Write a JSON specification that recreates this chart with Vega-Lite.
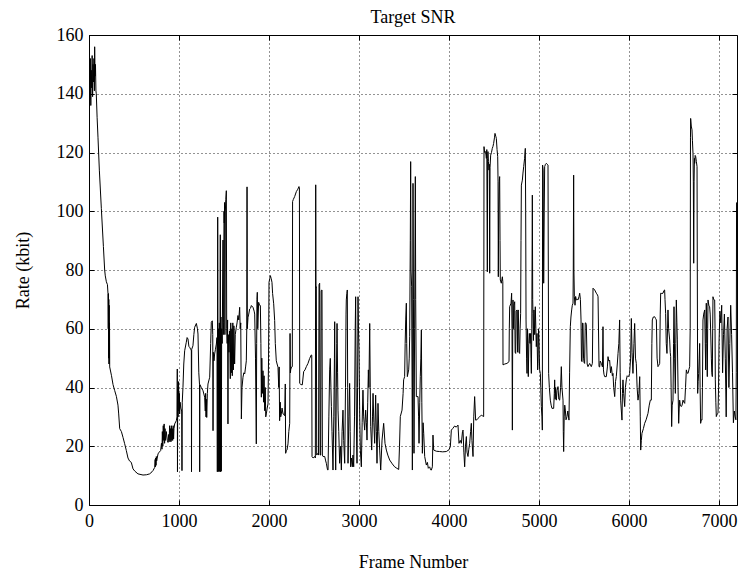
{
  "$schema": "https://vega.github.io/schema/vega-lite/v6.json",
  "width": 648,
  "height": 470,
  "autosize": "none",
  "padding": {"left": 89, "top": 35, "right": 3, "bottom": 66},
  "background": "white",
  "config": {
    "font": "Liberation Serif",
    "view": {"stroke": "black", "strokeWidth": 1},
    "axis": {
      "labelFont": "Liberation Serif",
      "titleFont": "Liberation Serif",
      "labelFontSize": 18,
      "titleFontSize": 18,
      "titleFontWeight": "normal",
      "labelColor": "black",
      "titleColor": "black",
      "domain": false,
      "tickColor": "black",
      "tickSize": -5,
      "grid": true,
      "gridColor": "black",
      "gridDash": [1, 3],
      "gridOpacity": 0.85
    }
  },
  "title": {
    "text": "Target SNR",
    "font": "Liberation Serif",
    "fontSize": 18,
    "fontWeight": "normal",
    "color": "black",
    "anchor": "middle",
    "baseline": "alphabetic",
    "offset": 9,
    "dy": 24
  },
  "data": {
    "values": [
      {"f":0,"r":140},{"f":5,"r":150},{"f":10,"r":138},{"f":15,"r":152},{"f":20,"r":136},{"f":25,"r":148},{"f":30,"r":142},{"f":35,"r":153},{"f":40,"r":139},{"f":45,"r":150},{"f":50,"r":144},{"f":55,"r":152},{"f":60,"r":141},{"f":63,"r":156},{"f":67,"r":146},{"f":72,"r":150},{"f":77,"r":141},{"f":81,"r":140},{"f":90,"r":132},{"f":100,"r":125},{"f":115,"r":114},{"f":137,"r":101},{"f":160,"r":88},{"f":174,"r":80},{"f":181,"r":78},{"f":193,"r":76},{"f":205,"r":75},{"f":211,"r":72},{"f":214,"r":60},{"f":216,"r":72},{"f":218,"r":50},{"f":220,"r":70},{"f":222,"r":48},{"f":224,"r":68},{"f":226,"r":50},{"f":228,"r":62},{"f":230,"r":47},{"f":250,"r":44},{"f":267,"r":41},{"f":285,"r":39},{"f":304,"r":37},{"f":322,"r":34},{"f":330,"r":31},{"f":341,"r":26},{"f":360,"r":25},{"f":378,"r":23},{"f":395,"r":21},{"f":415,"r":18.5},{"f":433,"r":16},{"f":450,"r":15},{"f":470,"r":14.5},{"f":489,"r":12.3},{"f":510,"r":11.5},{"f":544,"r":10.6},{"f":600,"r":10.2},{"f":640,"r":10.3},{"f":674,"r":10.6},{"f":700,"r":11.3},{"f":711,"r":11.7},{"f":730,"r":12.8},{"f":735,"r":15.5},{"f":738,"r":13},{"f":741,"r":16},{"f":745,"r":13.5},{"f":748,"r":16.5},{"f":752,"r":15},{"f":767,"r":17.4},{"f":780,"r":18},{"f":796,"r":18.5},{"f":805,"r":21},{"f":811,"r":19},{"f":815,"r":25},{"f":820,"r":20},{"f":825,"r":27},{"f":830,"r":22},{"f":835,"r":27.6},{"f":840,"r":21},{"f":845,"r":26},{"f":850,"r":22},{"f":859,"r":25},{"f":870,"r":22},{"f":878,"r":21.3},{"f":885,"r":24},{"f":890,"r":21.5},{"f":896,"r":27},{"f":900,"r":22},{"f":905,"r":26},{"f":910,"r":21.5},{"f":915,"r":27},{"f":920,"r":22},{"f":925,"r":26},{"f":930,"r":22},{"f":935,"r":27},{"f":940,"r":22.5},{"f":944,"r":26},{"f":952,"r":27.6},{"f":970,"r":28.7},{"f":978,"r":30},{"f":981,"r":46.3},{"f":983,"r":11.3},{"f":986,"r":40},{"f":990,"r":30},{"f":995,"r":42},{"f":1000,"r":32},{"f":1005,"r":38},{"f":1007,"r":31},{"f":1012,"r":35},{"f":1020,"r":33},{"f":1030,"r":32},{"f":1033,"r":11.7},{"f":1036,"r":35},{"f":1044,"r":40},{"f":1053,"r":48},{"f":1063,"r":52.5},{"f":1081,"r":55.4},{"f":1090,"r":57},{"f":1100,"r":56.5},{"f":1110,"r":54},{"f":1118,"r":53.7},{"f":1130,"r":53},{"f":1137,"r":52.5},{"f":1139,"r":11.3},{"f":1141,"r":53},{"f":1155,"r":54.2},{"f":1165,"r":58},{"f":1174,"r":60.5},{"f":1193,"r":61.8},{"f":1205,"r":60},{"f":1211,"r":58.2},{"f":1220,"r":45},{"f":1228,"r":41},{"f":1230,"r":11.3},{"f":1232,"r":41},{"f":1248,"r":40},{"f":1267,"r":38.9},{"f":1285,"r":36.7},{"f":1292,"r":32},{"f":1296,"r":38},{"f":1300,"r":30},{"f":1304,"r":36},{"f":1308,"r":29.8},{"f":1315,"r":38},{"f":1322,"r":41.2},{"f":1341,"r":43.5},{"f":1352,"r":55},{"f":1359,"r":62.2},{"f":1370,"r":62.7},{"f":1375,"r":58},{"f":1378,"r":25.3},{"f":1381,"r":52},{"f":1389,"r":49.1},{"f":1396,"r":51.4},{"f":1405,"r":53},{"f":1415,"r":54.8},{"f":1422,"r":57},{"f":1426,"r":11.3},{"f":1430,"r":98},{"f":1433,"r":50},{"f":1436,"r":11.5},{"f":1440,"r":60},{"f":1444,"r":11.3},{"f":1448,"r":62},{"f":1452,"r":11.5},{"f":1459,"r":92},{"f":1462,"r":11.3},{"f":1466,"r":64},{"f":1470,"r":11.5},{"f":1474,"r":60},{"f":1480,"r":55},{"f":1489,"r":90.2},{"f":1492,"r":58},{"f":1496,"r":62},{"f":1500,"r":100},{"f":1503,"r":96},{"f":1507,"r":103},{"f":1510,"r":58},{"f":1515,"r":100},{"f":1520,"r":104},{"f":1526,"r":107},{"f":1530,"r":60},{"f":1535,"r":55},{"f":1540,"r":63},{"f":1544,"r":27.6},{"f":1548,"r":58},{"f":1555,"r":52},{"f":1563,"r":59.3},{"f":1570,"r":43},{"f":1575,"r":62},{"f":1581,"r":45},{"f":1587,"r":60},{"f":1592,"r":44},{"f":1598,"r":62},{"f":1604,"r":46},{"f":1610,"r":61},{"f":1618,"r":48},{"f":1625,"r":58},{"f":1637,"r":60.5},{"f":1645,"r":62},{"f":1655,"r":64.5},{"f":1664,"r":63},{"f":1674,"r":67.3},{"f":1680,"r":60},{"f":1686,"r":62},{"f":1693,"r":29.3},{"f":1700,"r":40},{"f":1711,"r":43.5},{"f":1720,"r":45},{"f":1730,"r":44.6},{"f":1740,"r":47},{"f":1748,"r":49.1},{"f":1753,"r":60},{"f":1756,"r":108.3},{"f":1759,"r":60},{"f":1767,"r":63.9},{"f":1775,"r":65},{"f":1785,"r":66.7},{"f":1795,"r":67},{"f":1804,"r":67.9},{"f":1822,"r":67.3},{"f":1835,"r":66},{"f":1841,"r":65},{"f":1850,"r":50},{"f":1859,"r":20.8},{"f":1863,"r":55},{"f":1866,"r":70},{"f":1870,"r":72.4},{"f":1875,"r":60},{"f":1885,"r":69},{"f":1895,"r":68},{"f":1904,"r":67.9},{"f":1910,"r":55},{"f":1915,"r":36.7},{"f":1920,"r":50},{"f":1927,"r":38},{"f":1933,"r":45.7},{"f":1940,"r":35},{"f":1945,"r":44},{"f":1952,"r":32.1},{"f":1958,"r":40},{"f":1964,"r":30},{"f":1970,"r":31},{"f":1980,"r":33},{"f":1989,"r":34.4},{"f":1995,"r":50},{"f":2000,"r":75.8},{"f":2008,"r":77},{"f":2015,"r":78.1},{"f":2025,"r":77},{"f":2033,"r":75.8},{"f":2040,"r":72},{"f":2052,"r":68.5},{"f":2063,"r":62.8},{"f":2070,"r":55},{"f":2081,"r":49.1},{"f":2090,"r":48},{"f":2100,"r":46.9},{"f":2108,"r":40},{"f":2113,"r":47},{"f":2118,"r":28.7},{"f":2125,"r":35},{"f":2130,"r":30},{"f":2137,"r":31},{"f":2145,"r":33},{"f":2156,"r":31},{"f":2165,"r":30.8},{"f":2174,"r":30.4},{"f":2181,"r":41.2},{"f":2185,"r":17.6},{"f":2193,"r":18.5},{"f":2200,"r":18.7},{"f":2211,"r":20.8},{"f":2220,"r":25},{"f":2230,"r":27.8},{"f":2234,"r":58.4},{"f":2238,"r":45},{"f":2241,"r":46},{"f":2250,"r":47},{"f":2259,"r":47.1},{"f":2262,"r":103.3},{"f":2270,"r":104},{"f":2285,"r":105},{"f":2304,"r":106.7},{"f":2320,"r":107.5},{"f":2333,"r":108.4},{"f":2338,"r":108},{"f":2341,"r":41.4},{"f":2355,"r":41},{"f":2370,"r":40.9},{"f":2385,"r":45.4},{"f":2400,"r":46},{"f":2415,"r":47.1},{"f":2433,"r":48.2},{"f":2452,"r":49.9},{"f":2470,"r":51.1},{"f":2475,"r":51},{"f":2478,"r":16.5},{"f":2490,"r":16},{"f":2507,"r":16.5},{"f":2515,"r":16},{"f":2519,"r":109},{"f":2522,"r":74},{"f":2526,"r":74.3},{"f":2530,"r":17},{"f":2544,"r":17.6},{"f":2550,"r":17},{"f":2556,"r":75},{"f":2563,"r":75.5},{"f":2568,"r":17},{"f":2574,"r":17},{"f":2580,"r":73},{"f":2589,"r":73.2},{"f":2593,"r":17},{"f":2600,"r":16.5},{"f":2619,"r":16.5},{"f":2630,"r":15},{"f":2637,"r":14.2},{"f":2650,"r":12},{"f":2656,"r":11.9},{"f":2665,"r":30},{"f":2674,"r":46},{"f":2681,"r":49.9},{"f":2688,"r":40},{"f":2693,"r":33.5},{"f":2700,"r":25},{"f":2711,"r":11.9},{"f":2720,"r":30},{"f":2727,"r":50},{"f":2730,"r":62.4},{"f":2735,"r":30},{"f":2741,"r":11.9},{"f":2748,"r":40},{"f":2753,"r":55},{"f":2756,"r":61.8},{"f":2762,"r":45},{"f":2767,"r":32.3},{"f":2775,"r":25},{"f":2785,"r":14.2},{"f":2795,"r":20},{"f":2804,"r":11.9},{"f":2812,"r":25},{"f":2822,"r":32.3},{"f":2830,"r":22},{"f":2841,"r":14.2},{"f":2850,"r":40},{"f":2856,"r":65},{"f":2859,"r":69.8},{"f":2865,"r":72},{"f":2870,"r":73.2},{"f":2874,"r":40},{"f":2878,"r":14.2},{"f":2888,"r":30},{"f":2896,"r":41.4},{"f":2902,"r":25},{"f":2907,"r":13},{"f":2916,"r":16},{"f":2926,"r":13},{"f":2933,"r":17},{"f":2941,"r":13},{"f":2950,"r":30},{"f":2958,"r":60},{"f":2963,"r":70.9},{"f":2968,"r":40},{"f":2974,"r":20},{"f":2978,"r":14.2},{"f":2984,"r":40},{"f":2989,"r":70.9},{"f":2994,"r":60},{"f":3000,"r":52.8},{"f":3008,"r":30},{"f":3015,"r":18.7},{"f":3026,"r":13},{"f":3035,"r":28},{"f":3044,"r":39.1},{"f":3052,"r":30},{"f":3063,"r":25.5},{"f":3074,"r":32.3},{"f":3082,"r":28},{"f":3089,"r":22.1},{"f":3097,"r":35},{"f":3104,"r":46},{"f":3110,"r":40},{"f":3119,"r":61.8},{"f":3125,"r":40},{"f":3130,"r":26.7},{"f":3141,"r":18.7},{"f":3150,"r":30},{"f":3156,"r":38},{"f":3165,"r":28},{"f":3174,"r":21},{"f":3185,"r":37.4},{"f":3193,"r":25},{"f":3200,"r":14.2},{"f":3211,"r":34.6},{"f":3220,"r":25},{"f":3230,"r":18.7},{"f":3241,"r":11.9},{"f":3256,"r":22.1},{"f":3274,"r":27.8},{"f":3289,"r":21},{"f":3304,"r":18.7},{"f":3320,"r":17},{"f":3341,"r":15.3},{"f":3370,"r":14},{"f":3396,"r":13},{"f":3420,"r":12.5},{"f":3441,"r":12.1},{"f":3450,"r":20},{"f":3459,"r":30.1},{"f":3478,"r":32.3},{"f":3490,"r":38},{"f":3496,"r":42.6},{"f":3507,"r":43.7},{"f":3513,"r":55},{"f":3519,"r":63},{"f":3526,"r":68.7},{"f":3530,"r":55},{"f":3537,"r":43.7},{"f":3552,"r":46},{"f":3558,"r":50},{"f":3563,"r":57.3},{"f":3570,"r":90},{"f":3574,"r":116.9},{"f":3578,"r":80},{"f":3585,"r":74.3},{"f":3590,"r":40},{"f":3593,"r":11.9},{"f":3597,"r":60},{"f":3600,"r":109.5},{"f":3605,"r":70},{"f":3611,"r":17.6},{"f":3618,"r":60},{"f":3626,"r":111.8},{"f":3630,"r":70},{"f":3637,"r":36.9},{"f":3656,"r":36.9},{"f":3662,"r":30},{"f":3667,"r":21},{"f":3675,"r":35},{"f":3681,"r":43.7},{"f":3687,"r":50},{"f":3693,"r":59.6},{"f":3698,"r":35},{"f":3704,"r":17.6},{"f":3712,"r":28},{"f":3719,"r":24.4},{"f":3730,"r":16.5},{"f":3748,"r":13.6},{"f":3760,"r":14.5},{"f":3770,"r":12.5},{"f":3785,"r":13},{"f":3795,"r":12},{"f":3804,"r":11.9},{"f":3815,"r":13},{"f":3822,"r":23.8},{"f":3830,"r":18.7},{"f":3860,"r":18.3},{"f":3896,"r":18.2},{"f":3930,"r":18.1},{"f":3970,"r":18.2},{"f":4000,"r":18.8},{"f":4015,"r":19.9},{"f":4026,"r":25.5},{"f":4040,"r":26},{"f":4063,"r":26.9},{"f":4080,"r":26.5},{"f":4100,"r":27.2},{"f":4111,"r":21},{"f":4125,"r":22},{"f":4137,"r":21},{"f":4150,"r":25},{"f":4156,"r":25.5},{"f":4165,"r":18},{"f":4174,"r":13},{"f":4183,"r":20},{"f":4193,"r":23.3},{"f":4200,"r":18},{"f":4211,"r":16.5},{"f":4220,"r":19},{"f":4230,"r":21},{"f":4240,"r":25},{"f":4248,"r":27.8},{"f":4255,"r":22},{"f":4267,"r":16.5},{"f":4275,"r":30},{"f":4285,"r":36.9},{"f":4296,"r":28.9},{"f":4310,"r":29},{"f":4322,"r":29.5},{"f":4340,"r":30},{"f":4359,"r":30.6},{"f":4375,"r":30.3},{"f":4385,"r":30.1},{"f":4389,"r":122},{"f":4396,"r":120},{"f":4407,"r":120.3},{"f":4415,"r":118},{"f":4420,"r":121},{"f":4426,"r":79.4},{"f":4429,"r":118},{"f":4433,"r":120.3},{"f":4438,"r":117},{"f":4444,"r":114},{"f":4448,"r":116},{"f":4452,"r":78.9},{"f":4456,"r":115},{"f":4463,"r":119.1},{"f":4472,"r":120},{"f":4481,"r":121.4},{"f":4488,"r":122},{"f":4496,"r":123.1},{"f":4505,"r":125},{"f":4511,"r":126.5},{"f":4520,"r":125.5},{"f":4526,"r":124.8},{"f":4534,"r":121},{"f":4541,"r":118.6},{"f":4545,"r":110},{"f":4548,"r":77.7},{"f":4552,"r":100},{"f":4558,"r":110},{"f":4563,"r":111.8},{"f":4567,"r":90},{"f":4570,"r":76.6},{"f":4581,"r":75.5},{"f":4593,"r":77.7},{"f":4598,"r":76},{"f":4600,"r":47.7},{"f":4620,"r":48},{"f":4644,"r":48.2},{"f":4667,"r":48.8},{"f":4670,"r":60},{"f":4674,"r":67.5},{"f":4689,"r":68.7},{"f":4696,"r":72.1},{"f":4700,"r":60},{"f":4704,"r":25.5},{"f":4708,"r":60},{"f":4711,"r":69.8},{"f":4718,"r":60},{"f":4722,"r":68},{"f":4730,"r":69.2},{"f":4735,"r":52},{"f":4741,"r":51.6},{"f":4746,"r":66},{"f":4756,"r":66.4},{"f":4762,"r":52},{"f":4766,"r":66},{"f":4770,"r":66.4},{"f":4778,"r":52},{"f":4785,"r":51.6},{"f":4790,"r":60},{"f":4796,"r":65.2},{"f":4800,"r":90},{"f":4804,"r":108.9},{"f":4815,"r":110.6},{"f":4822,"r":113},{"f":4830,"r":115.2},{"f":4840,"r":118},{"f":4848,"r":121.4},{"f":4852,"r":100},{"f":4856,"r":63},{"f":4862,"r":50},{"f":4867,"r":44.8},{"f":4873,"r":60},{"f":4881,"r":43.7},{"f":4887,"r":55},{"f":4893,"r":58.4},{"f":4900,"r":55},{"f":4907,"r":58.4},{"f":4911,"r":50},{"f":4915,"r":44.8},{"f":4920,"r":60},{"f":4926,"r":105.5},{"f":4930,"r":70},{"f":4933,"r":65.2},{"f":4938,"r":56},{"f":4944,"r":66.4},{"f":4952,"r":58},{"f":4959,"r":67.5},{"f":4965,"r":60},{"f":4970,"r":53.9},{"f":4978,"r":58.4},{"f":4985,"r":46},{"f":4989,"r":48.2},{"f":4995,"r":60},{"f":5000,"r":56.2},{"f":5007,"r":46},{"f":5015,"r":44.8},{"f":5020,"r":40},{"f":5026,"r":33.5},{"f":5033,"r":30},{"f":5037,"r":25.5},{"f":5040,"r":115.7},{"f":5046,"r":114},{"f":5052,"r":75.5},{"f":5058,"r":100},{"f":5063,"r":115.2},{"f":5072,"r":116},{"f":5081,"r":116.3},{"f":5092,"r":116},{"f":5100,"r":115.7},{"f":5107,"r":44.8},{"f":5115,"r":40},{"f":5126,"r":35.7},{"f":5135,"r":34},{"f":5144,"r":32.9},{"f":5163,"r":32.9},{"f":5170,"r":38},{"f":5174,"r":42.6},{"f":5180,"r":36},{"f":5185,"r":40},{"f":5193,"r":35.7},{"f":5200,"r":39},{"f":5211,"r":40.3},{"f":5220,"r":36},{"f":5230,"r":35.7},{"f":5240,"r":40},{"f":5248,"r":47.1},{"f":5255,"r":40},{"f":5267,"r":35.7},{"f":5270,"r":25},{"f":5274,"r":18.2},{"f":5280,"r":30},{"f":5286,"r":34},{"f":5293,"r":32.3},{"f":5300,"r":29},{"f":5311,"r":30.1},{"f":5320,"r":32},{"f":5333,"r":28.9},{"f":5340,"r":45},{"f":5348,"r":60.7},{"f":5355,"r":64},{"f":5363,"r":66.4},{"f":5370,"r":68},{"f":5378,"r":68.7},{"f":5381,"r":80},{"f":5385,"r":112.3},{"f":5388,"r":80},{"f":5393,"r":70.9},{"f":5400,"r":68},{"f":5407,"r":71},{"f":5415,"r":69.8},{"f":5425,"r":70},{"f":5433,"r":69.8},{"f":5445,"r":71},{"f":5452,"r":72.1},{"f":5460,"r":70},{"f":5467,"r":63},{"f":5472,"r":49},{"f":5478,"r":48.8},{"f":5483,"r":62},{"f":5489,"r":61.8},{"f":5495,"r":50},{"f":5501,"r":48.5},{"f":5507,"r":48.2},{"f":5514,"r":62},{"f":5520,"r":62},{"f":5526,"r":61.3},{"f":5535,"r":48},{"f":5544,"r":47.1},{"f":5563,"r":48.2},{"f":5581,"r":47.1},{"f":5593,"r":48.2},{"f":5597,"r":60},{"f":5600,"r":73.8},{"f":5619,"r":73.2},{"f":5637,"r":72.1},{"f":5650,"r":71.5},{"f":5656,"r":70.9},{"f":5667,"r":47.1},{"f":5674,"r":47},{"f":5680,"r":49},{"f":5693,"r":48.2},{"f":5705,"r":47},{"f":5711,"r":60.7},{"f":5716,"r":46},{"f":5722,"r":44.5},{"f":5730,"r":43.7},{"f":5748,"r":43.7},{"f":5760,"r":47},{"f":5767,"r":50.5},{"f":5775,"r":49},{"f":5785,"r":49.3},{"f":5795,"r":45},{"f":5804,"r":47.1},{"f":5815,"r":44},{"f":5822,"r":44.8},{"f":5830,"r":40},{"f":5841,"r":36.9},{"f":5850,"r":42},{"f":5859,"r":43.7},{"f":5870,"r":48},{"f":5878,"r":51.6},{"f":5887,"r":55},{"f":5896,"r":63},{"f":5902,"r":45},{"f":5907,"r":35.7},{"f":5915,"r":32},{"f":5922,"r":28.9},{"f":5927,"r":38},{"f":5933,"r":42.6},{"f":5940,"r":38},{"f":5952,"r":33.5},{"f":5960,"r":40},{"f":5970,"r":42.6},{"f":5980,"r":44},{"f":5989,"r":43.7},{"f":6000,"r":44},{"f":6007,"r":44.8},{"f":6018,"r":50},{"f":6026,"r":63.5},{"f":6034,"r":52},{"f":6044,"r":44.8},{"f":6055,"r":55},{"f":6063,"r":61.8},{"f":6072,"r":50},{"f":6081,"r":48.2},{"f":6090,"r":40},{"f":6100,"r":35.7},{"f":6110,"r":38},{"f":6119,"r":43.7},{"f":6125,"r":30},{"f":6130,"r":18.7},{"f":6137,"r":22},{"f":6144,"r":24.4},{"f":6160,"r":26},{"f":6174,"r":27.8},{"f":6190,"r":29},{"f":6211,"r":31.2},{"f":6225,"r":34},{"f":6237,"r":35.7},{"f":6248,"r":35.7},{"f":6254,"r":55},{"f":6259,"r":63},{"f":6270,"r":64},{"f":6285,"r":64.1},{"f":6295,"r":63.5},{"f":6304,"r":63},{"f":6312,"r":50},{"f":6322,"r":47.1},{"f":6330,"r":47.5},{"f":6341,"r":48.2},{"f":6347,"r":65},{"f":6352,"r":72.1},{"f":6365,"r":72},{"f":6378,"r":72.1},{"f":6388,"r":73},{"f":6396,"r":73.2},{"f":6400,"r":70},{"f":6407,"r":65.2},{"f":6414,"r":55},{"f":6422,"r":51.6},{"f":6428,"r":60},{"f":6433,"r":66.4},{"f":6440,"r":60},{"f":6452,"r":56.2},{"f":6458,"r":52},{"f":6463,"r":50.5},{"f":6468,"r":40},{"f":6474,"r":26.7},{"f":6480,"r":34},{"f":6489,"r":35.7},{"f":6495,"r":55},{"f":6500,"r":67.5},{"f":6507,"r":50},{"f":6515,"r":38},{"f":6520,"r":55},{"f":6526,"r":69.8},{"f":6532,"r":62},{"f":6537,"r":56.2},{"f":6545,"r":40},{"f":6552,"r":27.8},{"f":6558,"r":33},{"f":6563,"r":35.7},{"f":6570,"r":34},{"f":6581,"r":33.5},{"f":6590,"r":34},{"f":6600,"r":35.7},{"f":6610,"r":35},{"f":6619,"r":34.6},{"f":6628,"r":40},{"f":6637,"r":46},{"f":6645,"r":45},{"f":6656,"r":44.8},{"f":6665,"r":46},{"f":6674,"r":47.1},{"f":6680,"r":60},{"f":6683,"r":125},{"f":6685,"r":131.6},{"f":6692,"r":129},{"f":6700,"r":127.7},{"f":6705,"r":124},{"f":6711,"r":119.7},{"f":6715,"r":110},{"f":6719,"r":82.3},{"f":6723,"r":110},{"f":6727,"r":118},{"f":6730,"r":116.3},{"f":6735,"r":119},{"f":6741,"r":118.6},{"f":6748,"r":117},{"f":6756,"r":115.2},{"f":6759,"r":80},{"f":6763,"r":38},{"f":6768,"r":42},{"f":6774,"r":44.8},{"f":6780,"r":50},{"f":6785,"r":55},{"f":6790,"r":40},{"f":6796,"r":27.8},{"f":6803,"r":29},{"f":6811,"r":28.9},{"f":6816,"r":40},{"f":6822,"r":63},{"f":6830,"r":65},{"f":6841,"r":66.4},{"f":6847,"r":55},{"f":6852,"r":46},{"f":6855,"r":60},{"f":6859,"r":68.7},{"f":6864,"r":55},{"f":6870,"r":43.7},{"f":6874,"r":60},{"f":6878,"r":69.8},{"f":6887,"r":68},{"f":6896,"r":67.5},{"f":6902,"r":65},{"f":6907,"r":59.6},{"f":6915,"r":50},{"f":6920,"r":45},{"f":6926,"r":43.7},{"f":6930,"r":60},{"f":6933,"r":70.9},{"f":6940,"r":70},{"f":6952,"r":69.8},{"f":6956,"r":60},{"f":6959,"r":42.6},{"f":6965,"r":35},{"f":6970,"r":30.1},{"f":6980,"r":31},{"f":6989,"r":31.2},{"f":6995,"r":40},{"f":7000,"r":55},{"f":7010,"r":66},{"f":7020,"r":62},{"f":7030,"r":68},{"f":7040,"r":45},{"f":7050,"r":58},{"f":7060,"r":65},{"f":7070,"r":50},{"f":7080,"r":30},{"f":7090,"r":60},{"f":7100,"r":64},{"f":7110,"r":40},{"f":7120,"r":55},{"f":7130,"r":68},{"f":7140,"r":58},{"f":7150,"r":45},{"f":7160,"r":28},{"f":7170,"r":32},{"f":7180,"r":30},{"f":7188,"r":29},{"f":7192,"r":45},{"f":7195,"r":103}
    ]
  },
  "layer": [
    {
      "mark": {"type": "line", "color": "black", "strokeWidth": 1, "clip": true, "interpolate": "linear"},
      "encoding": {
        "x": {
          "field": "f",
          "type": "quantitative",
          "scale": {"domain": [0, 7200], "nice": false, "zero": false},
          "axis": {
            "title": "Frame Number",
            "values": [0, 1000, 2000, 3000, 4000, 5000, 6000, 7000],
            "format": "d",
            "labelPadding": 12,
            "labelFlush": false,
            "titleY": 62,
            "titleBaseline": "alphabetic"
          }
        },
        "y": {
          "field": "r",
          "type": "quantitative",
          "scale": {"domain": [0, 160], "nice": false},
          "axis": {
            "title": "Rate (kbit)",
            "values": [0, 20, 40, 60, 80, 100, 120, 140, 160],
            "labelPadding": 11,
            "labelFlush": false,
            "titleX": -66,
            "titleY": 235,
            "titleBaseline": "middle",
            "titleAngle": -90
          }
        }
      }
    },
    {
      "mark": {"type": "line", "opacity": 0, "clip": true},
      "encoding": {
        "x": {
          "field": "f",
          "type": "quantitative",
          "scale": {"domain": [0, 7200], "nice": false, "zero": false},
          "axis": {
            "orient": "top",
            "title": null,
            "labels": false,
            "grid": false,
            "values": [0, 1000, 2000, 3000, 4000, 5000, 6000, 7000]
          }
        },
        "y": {
          "field": "r",
          "type": "quantitative",
          "scale": {"domain": [0, 160], "nice": false},
          "axis": {
            "orient": "right",
            "title": null,
            "labels": false,
            "grid": false,
            "values": [0, 20, 40, 60, 80, 100, 120, 140, 160]
          }
        }
      }
    }
  ],
  "resolve": {"axis": {"x": "independent", "y": "independent"}}
}
